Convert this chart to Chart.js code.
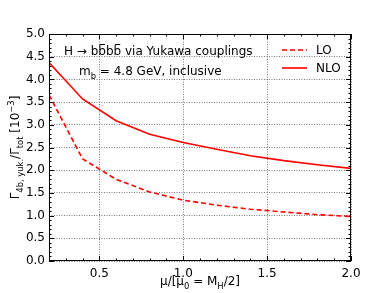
<!DOCTYPE html>
<html>
<head>
<meta charset="utf-8">
<script src="https://cdn.jsdelivr.net/npm/chart.js@4"></script>
<style>
  html, body { margin: 0; padding: 0; background: #fff; }
  #wrap { width: 390px; height: 293px; }
</style>
</head>
<body>
<div id="wrap"><canvas id="myChart" width="390" height="293"></canvas></div>
<script>
'use strict';
var muValues = [0.2, 0.4, 0.6, 0.8, 1.0, 1.2, 1.4, 1.6, 1.8, 2.0];
var loValues = [3.66, 2.25, 1.80, 1.52, 1.34, 1.23, 1.14, 1.08, 1.02, 0.98];
var nloValues = [4.37, 3.57, 3.09, 2.79, 2.61, 2.46, 2.32, 2.21, 2.12, 2.04];
var xTicks = [0.5, 1.0, 1.5, 2.0];
var yTicks = [0.0, 0.5, 1.0, 1.5, 2.0, 2.5, 3.0, 3.5, 4.0, 4.5, 5.0];
var seriesNames = ['LO', 'NLO'];

var FONT = '"DejaVu Sans", sans-serif';
var FS = 12;

function toPoints(xs, ys) {
    return xs.map(function (x, i) { return { x: x, y: ys[i] }; });
}

// text pieces: [text, 'n'|'sub'|'sup'|'bar']
function drawRich(ctx, parts, x, y, size) {
    var cx = x;
    parts.forEach(function (p) {
        var s = (p[1] === 'n' || p[1] === 'bar') ? size : size * 0.7;
        var dy = p[1] === 'sub' ? size * 0.3 : (p[1] === 'sup' ? -size * 0.4 : 0);
        ctx.font = s + 'px ' + FONT;
        ctx.fillText(p[0], cx, y + dy);
        var w = ctx.measureText(p[0]).width;
        if (p[1] === 'bar') {
            ctx.save();
            ctx.strokeStyle = ctx.fillStyle;
            ctx.lineWidth = 1;
            ctx.beginPath();
            ctx.moveTo(cx + 1.5, Math.round(y - size * 0.88) + 0.5);
            ctx.lineTo(cx + w - 1, Math.round(y - size * 0.88) + 0.5);
            ctx.stroke();
            ctx.restore();
        }
        cx += w;
    });
    return cx - x;
}
function richWidth(ctx, parts, size) {
    var w = 0;
    parts.forEach(function (p) {
        var s = (p[1] === 'n' || p[1] === 'bar') ? size : size * 0.7;
        ctx.font = s + 'px ' + FONT;
        w += ctx.measureText(p[0]).width;
    });
    return w;
}

var decorPlugin = {
    id: 'decor',
    beforeDatasetsDraw: function (chart) {
        var ctx = chart.ctx, a = chart.chartArea;
        var xs = chart.scales.x, ys = chart.scales.y;
        ctx.save();
        ctx.strokeStyle = '#000';
        ctx.lineWidth = 1;
        // minor ticks
        for (var i = 2; i <= 20; i++) {
            var v = i / 10;
            var px = Math.round(xs.getPixelForValue(v)) + 0.5;
            var major = Math.abs(v * 2 - Math.round(v * 2)) < 1e-6;
            var len = major ? 5 : 2.5;
            ctx.beginPath();
            ctx.moveTo(px, a.bottom); ctx.lineTo(px, a.bottom - len);
            ctx.moveTo(px, a.top); ctx.lineTo(px, a.top + len);
            ctx.stroke();
        }
        for (var j = 0; j <= 50; j++) {
            var vy = j / 10;
            var py = Math.round(ys.getPixelForValue(vy)) + 0.5;
            var majorY = j % 5 === 0;
            var leny = majorY ? 5 : 2.5;
            ctx.beginPath();
            ctx.moveTo(a.left, py); ctx.lineTo(a.left + leny, py);
            ctx.moveTo(a.right, py); ctx.lineTo(a.right - leny, py);
            ctx.stroke();
        }
        ctx.restore();
    },
    afterDraw: function (chart) {
        var ctx = chart.ctx, a = chart.chartArea;
        ctx.save();
        ctx.strokeStyle = '#000';
        ctx.lineWidth = 1;
        ctx.strokeRect(a.left + 0.5, a.top + 0.5, a.width - 1, a.height - 1);

        ctx.fillStyle = '#000';
        ctx.textBaseline = 'alphabetic';
        ctx.textAlign = 'left';
        // annotations
        drawRich(ctx, [['H \u2192 b', 'n'], ['b', 'bar'], ['b', 'n'], ['b', 'bar'], [' via Yukawa couplings', 'n']], 64, 55, FS);
        drawRich(ctx, [['m', 'n'], ['b', 'sub'], [' = 4.8 GeV, inclusive', 'n']], 79, 75, FS);

        // legend
        var ds = chart.data.datasets;
        var ly = [50, 68];
        ds.forEach(function (d, k) {
            ctx.save();
            ctx.strokeStyle = d.borderColor;
            ctx.lineWidth = d.borderWidth;
            ctx.setLineDash(d.borderDash || []);
            ctx.beginPath();
            ctx.moveTo(282, ly[k]); ctx.lineTo(307, ly[k]);
            ctx.stroke();
            ctx.restore();
            ctx.font = FS + 'px ' + FONT;
            ctx.textBaseline = 'middle';
            ctx.fillText(d.label, 316, ly[k] + 1);
        });

        // x title
        ctx.textBaseline = 'alphabetic';
        var xParts = [['\u03bc/[\u03bc', 'n'], ['0', 'sub'], [' = M', 'n'], ['H', 'sub'], ['/2]', 'n']];
        var w = richWidth(ctx, xParts, FS);
        drawRich(ctx, xParts, (a.left + a.right) / 2 - w / 2, 285, FS);

        // y title
        var yParts = [['\u0393', 'n'], ['4b, yuk.', 'sub'], ['/\u0393', 'n'], ['tot', 'sub'], [' [10', 'n'], ['\u22123', 'sup'], [']', 'n']];
        var wy = richWidth(ctx, yParts, FS);
        ctx.translate(19, (a.top + a.bottom) / 2);
        ctx.rotate(-Math.PI / 2);
        drawRich(ctx, yParts, -wy / 2, 0, FS);
        ctx.restore();
    }
};

var ctx = document.getElementById('myChart');
var myChart = new Chart(ctx, {
    type: 'line',
    data: {
        datasets: [{
                label: seriesNames[0],
                data: toPoints(muValues, loValues),
                borderColor: '#ff0000',
                borderWidth: 1.6,
                borderDash: [5, 3],
                pointRadius: 0,
                tension: 0,
                fill: false
            }, {
                label: seriesNames[1],
                data: toPoints(muValues, nloValues),
                borderColor: '#ff0000',
                borderWidth: 1.6,
                pointRadius: 0,
                tension: 0,
                fill: false
            }
        ]
    },
    options: {
        responsive: false,
        animation: false,
        devicePixelRatio: 1,
        layout: { padding: { top: 34, right: 39, left: 0, bottom: 0 } },
        plugins: { legend: { display: false }, tooltip: { enabled: false } },
        scales: {
            x: {
                type: 'linear',
                min: 0.2,
                max: 2.0,
                afterFit: function (s) { s.height = 32; },
                afterBuildTicks: function (s) { s.ticks = xTicks.map(function (v) { return { value: v }; }); },
                grid: {
                    color: '#555',
                    lineWidth: 0.8,
                    drawTicks: false
                },
                border: { display: false, dash: [1, 1.5] },
                ticks: {
                    color: '#000',
                    padding: 6,
                    font: { family: FONT, size: FS },
                    callback: function (v) { return v.toFixed(1); }
                }
            },
            y: {
                type: 'linear',
                min: 0,
                max: 5,
                afterFit: function (s) { s.width = 49; },
                afterBuildTicks: function (s) { s.ticks = yTicks.map(function (v) { return { value: v }; }); },
                grid: {
                    color: '#555',
                    lineWidth: 0.8,
                    drawTicks: false
                },
                border: { display: false, dash: [1, 1.5] },
                ticks: {
                    color: '#000',
                    padding: 4,
                    font: { family: FONT, size: FS },
                    callback: function (v) { return v.toFixed(1); }
                }
            }
        }
    },
    plugins: [decorPlugin]
});
</script>
</body>
</html>
